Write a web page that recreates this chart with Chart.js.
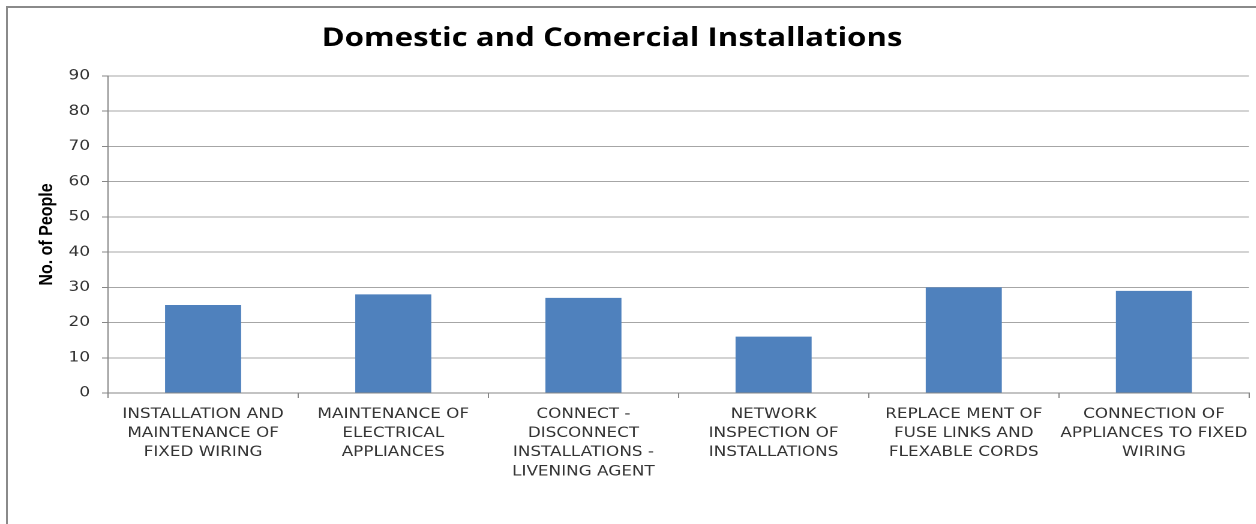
<!DOCTYPE html>
<html>
<head>
<meta charset="utf-8">
<script src="https://cdn.jsdelivr.net/npm/chart.js@4.4.1/dist/chart.umd.min.js"></script>
<style>
  html, body { margin: 0; padding: 0; background: #fff; }
  body { width: 1256px; height: 524px; overflow: hidden; position: relative; }
  #frameTop { position: absolute; left: 7px; top: 6px; width: 1249px; height: 2px; background: #8a8a8a; }
  #frameLeft { position: absolute; left: 6px; top: 6px; width: 2px; height: 518px; background: #8a8a8a; }
  /* the chart is laid out narrow and widened horizontally */
  #wrap { position: absolute; left: 0; top: 0; width: 1047px; height: 524px;
          transform: scaleX(1.2); transform-origin: 0 0; }
</style>
</head>
<body>
<div id="wrap"><canvas id="c"></canvas></div>
<div id="frameTop"></div>
<div id="frameLeft"></div>
<script>
const chartTitle = "Domestic and Comercial Installations";
const yAxisTitle = "No. of People";
const categories = [
  ["INSTALLATION AND", "MAINTENANCE OF", "FIXED WIRING"],
  ["MAINTENANCE OF", "ELECTRICAL", "APPLIANCES"],
  ["CONNECT -", "DISCONNECT", "INSTALLATIONS -", "LIVENING AGENT"],
  ["NETWORK", "INSPECTION OF", "INSTALLATIONS"],
  ["REPLACE MENT OF", "FUSE LINKS AND", "FLEXABLE CORDS"],
  ["CONNECTION OF", "APPLIANCES TO FIXED", "WIRING"]
];
const people = [25, 28, 27, 16, 30, 29];
const yMin = 0, yMax = 90, yStep = 10;

// Title and rotated axis caption painted over the canvas
const captions = {
  id: 'captions',
  afterDraw(chart) {
    const ctx = chart.ctx;
    ctx.save();
    ctx.fillStyle = '#000';
    ctx.textAlign = 'center';
    ctx.textBaseline = 'alphabetic';
    ctx.font = 'bold 26px "Open Sans"';
    ctx.fillText(chartTitle, 510, 46);
    ctx.translate(39, (chart.chartArea.top + chart.chartArea.bottom) / 2);
    ctx.rotate(-Math.PI / 2);
    ctx.textBaseline = 'middle';
    ctx.font = 'bold 16px "Liberation Sans"';
    ctx.fillText(yAxisTitle, 0, 0);
    ctx.restore();
  }
};

new Chart(document.getElementById('c'), {
  type: 'bar',
  data: {
    labels: categories,
    datasets: [{
      data: people,
      backgroundColor: '#4F81BD',
      borderWidth: 0,
      barPercentage: 0.4,
      categoryPercentage: 1.0
    }]
  },
  options: {
    responsive: true,
    maintainAspectRatio: false,
    animation: false,
    devicePixelRatio: 2,
    layout: { padding: { left: 0, right: 6, top: 76, bottom: 0 } },
    plugins: { legend: { display: false }, tooltip: { enabled: false }, title: { display: false } },
    scales: {
      x: {
        offset: true,
        afterFit(s) { s.height = 131; },
        grid: { offset: true, drawOnChartArea: false, drawTicks: true, tickLength: 5, tickColor: '#868686' },
        border: { color: '#868686', width: 1 },
        ticks: {
          autoSkip: false, maxRotation: 0, minRotation: 0, padding: 7,
          color: '#333333',
          font: { family: '"DejaVu Sans"', size: 14, lineHeight: 1.36 }
        }
      },
      y: {
        min: yMin, max: yMax,
        afterFit(s) { s.width = 90; },
        grid: { color: '#a6a6a6', lineWidth: 1, drawTicks: true, tickLength: 5, tickColor: '#868686' },
        border: { color: '#868686', width: 1 },
        ticks: {
          stepSize: yStep, padding: 10, color: '#333333',
          font: { family: '"DejaVu Sans"', size: 14 }
        }
      }
    }
  },
  plugins: [captions]
});
</script>
</body>
</html>
